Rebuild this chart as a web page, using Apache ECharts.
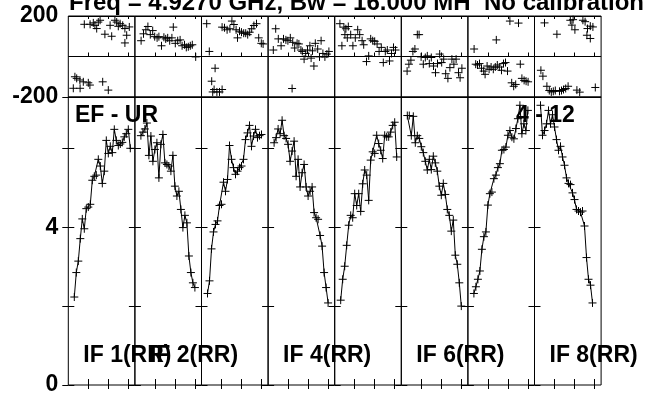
<!DOCTYPE html>
<html><head><meta charset="utf-8">
<script src="https://cdn.jsdelivr.net/npm/echarts@6/dist/echarts.min.js"></script>
<style>html,body{margin:0;padding:0;background:#fff}#c{width:645px;height:394px}</style>
</head><body><div id="c"></div>
<script>
// ---- data ----
const titleText = 'Freq = 4.9270 GHz, Bw = 16.000 MH';
const calText = 'No calibration';
const baselineText = 'EF - UR';
const timeText = '4 - 12';
const ifLabels = ['IF 1(RR)', 'IF 2(RR)', '', 'IF 4(RR)', '', 'IF 6(RR)', '', 'IF 8(RR)'];
const channelTicks = [10, 20, 30];
const firstChannel = 3;
const ampLabels = [0, 4];
const phaseLabels = [200, -200];

const amp1 = [2.23, 2.85, 3.14, 3.71, 4.21, 3.96, 4.47, 4.51, 4.58, 5.19, 5.29, 5.32, 5.72, 5.55, 5.11, 5.42, 6.20, 5.87, 6.05, 5.89, 6.48, 6.20, 6.07, 6.11, 6.15, 6.29, 6.37, 6.48, 6.00];
const amp2 = [6.32, 6.41, 6.49, 6.64, 5.82, 6.31, 5.67, 5.97, 6.14, 5.25, 6.10, 6.35, 5.63, 5.59, 5.55, 5.42, 5.82, 5.04, 4.79, 4.91, 4.45, 3.99, 4.30, 4.11, 3.27, 2.85, 2.59, 2.47];
const amp3 = [2.32, 2.64, 3.45, 3.88, 4.07, 4.16, 4.55, 4.58, 5.14, 4.91, 5.21, 6.07, 5.72, 5.51, 5.34, 5.42, 5.51, 5.55, 5.72, 6.22, 6.39, 6.58, 6.05, 6.31, 6.48, 6.27, 6.32, 6.35];
const amp4 = [6.14, 6.27, 6.49, 6.37, 6.71, 6.32, 6.25, 6.10, 5.67, 5.93, 6.18, 5.29, 5.72, 5.02, 5.38, 5.59, 5.02, 4.79, 4.91, 5.02, 4.37, 4.24, 4.20, 3.79, 3.52, 2.85, 2.47, 2.08];
const amp5 = [2.15, 2.68, 3.01, 3.54, 4.05, 4.30, 4.24, 4.85, 4.55, 4.85, 4.40, 5.10, 5.45, 5.32, 4.68, 5.70, 5.91, 5.87, 6.33, 6.12, 5.95, 5.74, 6.33, 6.29, 6.29, 6.41, 6.58, 6.66, 5.78];
const amp6 = [6.83, 6.83, 6.32, 6.81, 6.14, 6.32, 6.25, 6.04, 5.89, 5.67, 5.45, 5.72, 5.46, 5.80, 5.63, 5.42, 5.04, 4.81, 5.11, 4.83, 4.45, 4.30, 3.90, 4.18, 3.29, 3.06, 2.59, 2.00];
const amp7 = [2.32, 2.49, 2.68, 2.89, 3.44, 3.76, 3.88, 4.56, 4.85, 4.89, 5.23, 5.32, 5.51, 5.61, 5.95, 5.97, 6.03, 6.33, 6.45, 6.28, 6.24, 6.50, 6.75, 7.09, 6.37, 6.62, 6.45, 6.96];
const amp8 = [7.09, 6.33, 6.45, 6.62, 6.96, 6.62, 6.85, 6.54, 6.22, 5.95, 6.05, 5.78, 5.57, 5.25, 5.11, 5.08, 4.87, 4.70, 4.45, 4.41, 4.38, 4.41, 4.03, 3.23, 2.68, 2.53, 2.08];

// phase: [channel, degrees]
const phase1 = [[2.5,-157],[3.3,-100],[4.2,-108],[5.8,-116],[5.9,-157],[7.5,-125],[8,159],[10,-130],[10.8,-141],[10.9,159],[12.5,166],[13.3,154],[14.2,138],[15,170],[15.9,179],[17.2,-125],[18.3,110],[20,-166],[20.9,154],[21.7,100],[23.3,179],[24.2,170],[25,149],[25.9,162],[27.2,154],[28.3,138],[28.3,67],[29.2,105],[30.5,146]];
const phase2 = [[3.1,78],[4.3,112],[5.5,132],[6.5,148],[7.7,108],[8.9,128],[9.9,98],[11.1,92],[12,98],[13.3,53],[14.5,95],[15.4,87],[16.4,92],[17.4,78],[18.5,92],[19.2,145],[20.2,65],[21.4,78],[22.6,82],[23.6,53],[24.8,58],[25.7,45],[26.7,48],[27.7,53],[28.7,58],[30.4,-2]];
const phase3 = [[2.6,162],[3.9,25],[5.1,-122],[5.6,-175],[6.3,-163],[6.8,-58],[7.7,-175],[9,-175],[10.3,-163],[10.3,145],[11.5,142],[12.8,132],[14.2,137],[15.2,175],[16.2,158],[17.3,132],[18,92],[19,125],[20,120],[21.1,115],[22.1,115],[23.1,108],[24.1,120],[25.1,137],[26.2,153],[27.5,162],[28.6,92],[29.9,65],[30.8,62]];
const phase4 = [[2.6,32],[3.8,137],[5.1,87],[6.5,53],[7.7,87],[8.9,82],[9.9,78],[11.1,92],[12,-158],[12.3,70],[13.3,42],[14.5,65],[15.4,62],[16.4,32],[17.1,25],[18,-13],[18.8,15],[19.7,32],[20.9,53],[21.5,-8],[22.2,28],[22.9,-47],[23.6,65],[24.8,37],[25.7,-2],[26.5,78],[27.4,15],[28.4,-2],[29.4,12],[30.4,25]];
const phase5 = [[2.6,162],[3.6,53],[4.6,145],[5.1,108],[5.6,137],[6.3,92],[6.8,148],[8,108],[9.1,53],[10.3,92],[11.5,132],[12.5,108],[13.7,78],[14.5,58],[15.9,-25],[17,3],[18,87],[19,78],[20,75],[21.2,62],[22.2,25],[23.3,45],[24.3,-30],[25.3,25],[26.3,32],[27.4,-22],[28.4,15],[29.4,45],[30.4,32]];
const phase6 = [[2.9,-72],[3.8,-38],[4.8,-18],[5.8,25],[6.8,37],[8,108],[8.9,108],[9.9,-2],[11,-38],[12,-5],[13,3],[14,-35],[15,-5],[16.1,-47],[17.1,-80],[18.1,-35],[19.2,12],[20.2,-30],[21.2,-13],[22.2,-85],[23.3,-108],[24.3,-55],[25.3,-13],[26.3,-38],[27.4,-13],[28.6,-80],[29.4,-105],[30.3,-58]];
const phase7 = [[3.1,37],[3.9,-38],[4.8,-42],[5.8,-35],[6.8,-58],[7.9,-72],[8.6,-88],[9.6,-47],[10.6,-63],[11.6,-52],[12.7,-63],[13.7,-52],[14.2,82],[14.7,-42],[15.7,-52],[16.8,-68],[17.8,-35],[18.8,-30],[19.8,-72],[21,175],[21.9,-130],[22.9,-147],[23.9,-138],[25.3,165],[26.2,-38],[27,-108],[28.1,-118],[29.1,-122],[30.1,-125]];
const phase8 = [[3.2,-68],[4.2,-97],[5,166],[6.2,-147],[7.4,-168],[8.4,-175],[9.4,-172],[10.4,-168],[11.2,110],[12.5,-172],[13.5,-168],[14.5,-163],[15.6,-158],[16.8,-147],[17.9,179],[18.7,155],[19.3,182],[20.2,132],[21.2,-166],[22.6,-176],[24.2,179],[25.3,172],[26.2,105],[26.5,138],[27.9,150],[27.9,89],[29.2,146],[30.4,-153]];

const amps = [amp1, amp2, amp3, amp4, amp5, amp6, amp7, amp8];
const phases = [phase1, phase2, phase3, phase4, phase5, phase6, phase7, phase8];

// ---- layout ----
const FONT = '"Liberation Sans", Arial, sans-serif';
const PLOT_L = 68.3, PANEL_W = 66.6;
const PH_TOP = 16, PH_H = 81, AMP_TOP = 97, AMP_H = 288;
const plus = 'path://M0,4L8,4M4,0L4,8';
const black = '#000';

const grids = [], xAxes = [], yAxes = [], series = [], graphics = [];
const labelStyle = {color: black, fontFamily: FONT, fontWeight: 'bold', fontSize: 23, margin: 10};

for (let k = 0; k < 8; k++) {
  const left = PLOT_L + k * PANEL_W;
  const gP = grids.length;
  grids.push({left, top: PH_TOP, width: PANEL_W, height: PH_H, show: true, borderColor: black, borderWidth: 1, backgroundColor: 'transparent', containLabel: false, outerBoundsMode: 'none'});
  const gA = grids.length;
  grids.push({left, top: AMP_TOP, width: PANEL_W, height: AMP_H, show: true, borderColor: black, borderWidth: 1, backgroundColor: 'transparent', containLabel: false, outerBoundsMode: 'none'});

  const xBase = {type: 'value', min: 0, max: 33.3, interval: 10, axisLine: {show: false}, axisLabel: {show: false}, splitLine: {show: false}};
  const tick = (len) => ({show: true, inside: true, length: len, lineStyle: {color: black, width: 1},
    customValues: channelTicks});
  const xP = xAxes.length;
  xAxes.push(Object.assign({}, xBase, {gridIndex: gP, position: 'bottom', axisTick: tick(4)}));
  xAxes.push(Object.assign({}, xBase, {gridIndex: gP, position: 'top', axisTick: tick(3)}));
  const xA = xAxes.length;
  xAxes.push(Object.assign({}, xBase, {gridIndex: gA, position: 'bottom', axisTick: tick(6)}));
  xAxes.push(Object.assign({}, xBase, {gridIndex: gA, position: 'top', axisTick: tick(4)}));

  const yP = yAxes.length;
  yAxes.push({type: 'value', gridIndex: gP, position: 'left', min: -200, max: 200, interval: 200,
    axisLine: {show: false}, axisTick: {show: false},
    splitLine: {show: true, lineStyle: {color: black, width: 1}},
    axisLabel: Object.assign({show: k === 0, showMinLabel: true, showMaxLabel: true,
      formatter: v => phaseLabels.indexOf(v) >= 0 ? String(v) : ''}, labelStyle)});
  const yA = yAxes.length;
  yAxes.push({type: 'value', gridIndex: gA, position: 'left', min: 0, max: 7.3, interval: 2,
    axisLine: {show: false}, splitLine: {show: false},
    axisTick: {show: true, inside: true, length: 6, lineStyle: {color: black, width: 1}},
    axisLabel: Object.assign({show: k === 0, showMinLabel: true, showMaxLabel: false,
      formatter: v => ampLabels.indexOf(v) >= 0 ? String(v) : ''}, labelStyle)});
  yAxes.push({type: 'value', gridIndex: gA, position: 'right', min: 0, max: 7.3, interval: 2,
    axisLine: {show: false}, splitLine: {show: false}, axisLabel: {show: false},
    axisTick: {show: true, inside: true, length: 6, lineStyle: {color: black, width: 1}}});

  series.push({type: 'scatter', xAxisIndex: xP, yAxisIndex: yP, data: phases[k],
    symbol: plus, symbolSize: 8, silent: true,
    itemStyle: {color: 'none', borderColor: black, borderWidth: 1, opacity: 1}});
  series.push({type: 'line', xAxisIndex: xA, yAxisIndex: yA,
    data: amps[k].map((v, i) => [firstChannel + i, v]),
    symbol: plus, symbolSize: 8, showSymbol: true, silent: true,
    lineStyle: {color: black, width: 1},
    itemStyle: {color: 'none', borderColor: black, borderWidth: 1}});

  if (ifLabels[k]) {
    graphics.push({type: 'text', x: left + 15, y: 355.5, z: 100,
      style: {text: ifLabels[k], font: 'bold 23px ' + FONT, fill: black, verticalAlign: 'middle', align: 'left'}});
  }
}

graphics.push({type: 'text', x: 69, y: 3.5, z: 100, style: {text: titleText, font: 'bold 24px ' + FONT, fill: black, verticalAlign: 'middle'}});
graphics.push({type: 'text', x: 484, y: 3.5, z: 100, style: {text: calText, font: 'bold 24px ' + FONT, fill: black, verticalAlign: 'middle'}});
graphics.push({type: 'text', x: 75, y: 116, z: 100, style: {text: baselineText, font: 'bold 23px ' + FONT, fill: black, verticalAlign: 'middle'}});
graphics.push({type: 'text', x: 516, y: 116, z: 100, style: {text: timeText, font: 'bold 23px ' + FONT, fill: black, verticalAlign: 'middle'}});

const chart = echarts.init(document.getElementById('c'), null, {renderer: 'canvas', width: 645, height: 394});
chart.setOption({
  animation: false,
  backgroundColor: '#fff',
  grid: grids,
  xAxis: xAxes,
  yAxis: yAxes,
  series: series,
  graphic: graphics
});
</script>
</body></html>
